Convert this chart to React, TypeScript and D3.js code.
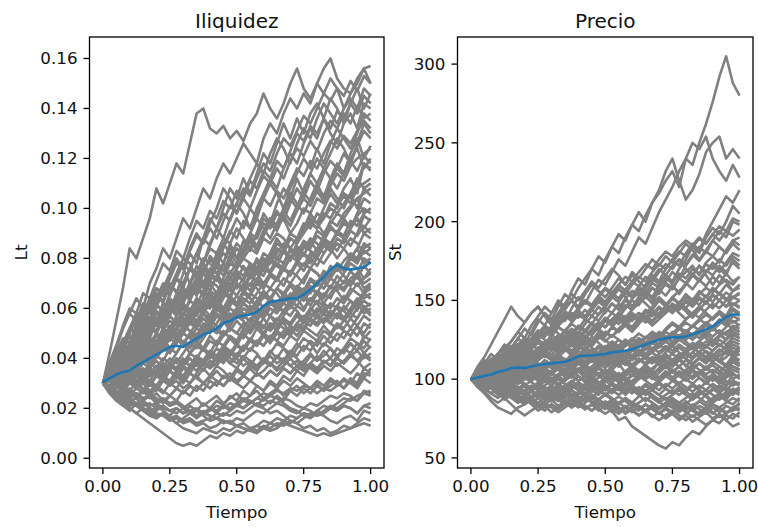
import React from "react";
import * as d3 from "d3";

// Simulation grid: 41 time steps on [0, 1]
const timeGrid = d3.range(41).map((i) => i / 40);

// Illiquidity paths Lt, in thousandths
const liquidityPaths: number[][] = [
  [30,42,55,68,84,80,88,96,108,102,110,118,114,126,138,140,132,130,133,128,131,127,134,138,146,140,136,142,150,156,148,144,150,156,160,152,148,146,152,156,150],
  [30,38,44,52,58,64,60,70,76,84,80,88,96,92,100,108,104,112,118,114,120,126,122,118,128,134,130,138,144,140,146,142,150,146,152,148,140,146,150,156,157],
  [30,36,40,46,52,50,58,64,60,68,74,80,76,84,90,86,94,100,108,104,98,106,112,118,114,122,128,124,118,126,132,128,136,142,138,134,140,144,140,148,145],
  [30,34,40,38,46,50,56,54,62,58,66,72,68,76,82,78,86,92,88,96,102,98,92,100,106,112,108,116,122,118,126,132,128,136,130,126,134,138,132,142,140],
  [30,33,37,42,40,46,44,50,56,52,60,58,64,70,66,74,80,76,84,90,96,92,100,96,104,110,106,100,108,114,120,116,124,118,126,132,128,124,130,138,135],
  [30,35,32,38,44,42,48,54,50,58,64,60,68,66,72,78,74,82,78,86,92,88,84,90,98,94,102,108,104,112,106,114,120,116,122,128,124,118,126,134,130],
  [30,32,36,34,40,38,44,48,46,52,50,56,54,60,58,64,70,66,72,78,76,82,88,84,90,96,92,98,104,100,108,114,110,104,112,118,114,122,128,120,125],
  [30,34,38,44,50,56,52,60,66,62,58,64,70,76,72,68,74,80,86,82,78,84,90,96,92,88,94,100,106,102,98,104,110,116,112,108,114,120,124,116,120],
  [30,28,32,36,34,38,42,40,46,44,48,52,50,56,60,58,54,60,66,64,70,68,74,80,76,82,88,84,80,86,92,98,94,100,106,102,108,112,106,118,115],
  [30,36,42,48,46,54,60,58,64,70,68,74,80,78,72,78,84,82,88,86,80,84,90,88,94,92,98,96,90,94,100,98,104,102,108,104,100,106,112,108,110],
  [30,32,30,34,38,36,40,44,42,46,50,48,52,56,54,58,62,60,66,70,68,72,76,74,78,82,80,84,88,86,90,94,92,96,100,98,102,106,100,108,105],
  [30,34,38,36,42,46,44,50,54,52,58,62,66,64,70,74,72,78,82,80,76,80,84,82,88,86,90,88,84,88,92,96,94,90,94,98,96,100,104,98,100],
  [30,27,30,28,32,30,34,38,36,40,38,42,46,44,48,52,50,54,58,56,60,64,62,66,70,68,72,76,74,78,82,80,84,88,86,90,94,92,96,92,96],
  [30,33,36,40,44,42,48,52,56,54,60,64,62,68,72,70,76,74,70,74,78,76,72,76,80,78,82,86,84,80,84,88,86,82,86,90,88,92,96,90,92],
  [30,29,31,28,30,33,31,35,33,37,40,38,42,46,44,48,52,50,54,58,56,60,58,62,66,64,68,72,70,74,78,76,80,78,82,86,84,80,84,90,88],
  [30,35,40,46,52,58,56,62,68,66,72,78,76,70,74,80,78,74,78,72,76,80,78,74,70,74,78,76,80,84,82,78,82,86,84,80,84,88,86,82,84],
  [30,31,34,32,36,34,38,42,40,44,42,46,50,48,52,50,54,58,56,60,58,62,66,64,60,64,68,66,70,68,72,76,74,70,74,78,76,80,84,78,80],
  [30,26,29,27,25,28,26,30,28,32,30,34,32,36,40,38,42,40,44,48,46,50,54,52,56,60,58,62,60,64,68,66,70,68,72,70,74,78,76,72,76],
  [30,34,32,36,40,38,42,46,44,48,52,50,46,50,54,52,56,60,58,54,58,62,60,56,60,64,62,58,62,66,64,68,66,62,66,70,68,72,74,70,72],
  [30,28,26,28,26,24,27,25,28,26,30,28,32,30,34,38,36,40,38,42,40,44,48,46,50,48,52,56,54,58,56,60,58,62,60,64,62,66,70,66,68],
  [30,33,31,35,39,37,41,45,43,47,51,49,53,51,47,51,55,53,49,53,57,55,51,55,59,57,53,57,61,59,55,59,63,61,57,61,65,63,59,66,64],
  [30,27,25,27,30,28,31,29,33,31,35,33,37,35,39,37,41,39,43,41,45,43,47,45,49,47,51,49,53,51,55,53,57,55,59,57,55,59,62,58,60],
  [30,32,35,38,36,40,44,42,46,50,48,52,56,54,58,62,60,64,60,56,60,58,54,58,56,52,56,54,50,54,52,56,60,58,54,58,56,52,56,60,57],
  [30,28,26,24,27,25,23,26,24,22,25,23,27,25,29,27,31,29,33,31,35,33,37,35,39,37,41,39,43,41,45,43,47,45,49,47,51,49,53,50,54],
  [30,32,30,28,31,29,33,31,35,33,37,35,39,37,41,39,43,41,45,43,41,45,43,47,45,49,47,45,49,47,51,49,47,51,49,53,51,49,53,48,51],
  [30,26,23,21,19,22,20,18,21,19,17,20,18,21,19,22,20,23,21,25,23,27,25,29,27,31,29,33,31,35,33,37,35,39,37,41,44,42,46,44,48],
  [30,34,38,42,40,44,48,46,50,48,44,48,46,42,46,44,40,44,42,38,42,40,44,42,38,42,46,44,40,44,48,46,42,46,44,40,44,48,46,42,45],
  [30,28,31,29,27,30,28,26,29,27,25,28,26,29,27,30,28,31,29,32,30,33,31,34,32,35,33,36,34,37,35,38,36,39,37,40,38,41,43,40,42],
  [30,31,29,32,30,33,36,34,37,35,38,36,39,37,40,38,41,39,42,40,38,41,39,37,40,38,36,39,37,35,38,36,34,37,35,38,36,34,37,41,39],
  [30,27,24,22,20,18,20,18,16,18,16,14,16,18,16,18,20,18,21,19,22,20,23,21,24,22,25,23,27,25,28,26,29,27,31,29,32,30,34,32,36],
  [30,33,31,34,32,35,33,36,34,32,35,33,31,34,32,30,33,31,29,32,30,28,31,29,27,30,28,31,29,32,30,28,31,29,32,30,28,31,29,34,33],
  [30,27,24,22,20,18,16,14,12,10,8,6,5,6,5,7,9,8,10,9,11,10,12,11,13,12,14,13,15,14,16,18,17,19,21,20,22,24,23,26,25],
  [30,28,26,24,22,21,19,17,16,18,16,14,12,11,10,12,11,10,12,11,13,12,11,13,12,14,13,15,14,16,18,17,19,21,20,22,24,23,25,26,27],
  [30,29,27,25,23,21,19,20,18,17,15,16,14,15,13,14,12,13,15,14,16,15,17,19,18,20,22,21,19,18,20,19,17,18,20,19,21,20,18,21,22],
  [30,27,25,23,21,22,20,19,17,18,16,17,15,16,14,15,16,18,17,19,21,20,22,24,23,25,24,22,20,19,17,16,18,17,15,14,16,17,15,19,18],
  [30,29,27,26,24,22,23,21,22,20,19,20,18,19,17,18,20,19,21,20,22,24,23,21,20,18,19,17,15,14,12,13,11,12,10,11,13,12,14,16,15],
  [30,28,29,27,25,26,24,25,23,24,22,23,21,19,20,18,17,16,15,14,13,12,11,10,12,11,12,14,13,12,11,10,9,10,9,10,11,12,13,14,13],
  [30,36,42,40,46,52,58,56,62,68,66,72,70,76,74,70,74,72,68,72,70,66,70,68,64,68,66,62,66,64,60,64,62,58,62,60,56,60,64,60,62],
  [30,31,33,30,32,34,31,33,35,38,36,40,38,42,45,43,47,45,49,52,50,54,52,56,59,57,61,59,63,61,65,63,67,65,69,67,71,69,73,68,70],
  [30,35,33,39,45,43,50,56,54,62,70,66,74,82,78,88,96,92,100,108,104,112,106,114,122,118,126,134,128,136,130,138,142,136,144,140,134,142,148,140,146],
  [30,34,39,37,44,49,46,53,51,58,63,60,57,64,69,66,73,71,78,84,80,87,83,90,96,93,99,95,102,108,104,111,107,114,119,116,122,118,125,131,128],
  [30,33,31,37,35,41,46,43,49,47,52,56,53,59,57,62,60,66,71,68,74,71,77,75,80,78,84,82,88,86,91,95,92,98,96,101,105,102,108,110,112],
  [30,32,37,34,40,38,43,48,45,51,49,55,52,58,63,60,57,62,67,65,70,68,73,71,76,74,72,78,83,81,86,84,89,87,92,90,95,93,97,100,98],
  [30,29,33,31,35,40,38,36,41,39,44,42,47,45,50,48,53,51,56,54,59,57,55,60,58,63,61,66,64,69,67,72,70,75,73,78,76,81,79,84,86],
  [30,31,28,32,30,34,31,36,33,38,35,40,37,42,40,44,42,47,45,49,47,52,50,54,52,57,55,59,57,61,59,64,62,66,64,69,67,71,69,72,74],
  [30,33,38,36,41,45,43,48,46,51,55,53,58,56,61,59,64,62,58,63,61,66,64,60,65,63,59,64,62,67,65,61,66,64,69,67,63,68,66,64,66],
  [30,28,32,29,33,31,35,33,37,34,38,36,40,37,41,39,43,40,44,42,46,43,47,45,49,46,50,48,52,49,53,51,49,53,50,54,52,56,53,57,55],
  [30,32,29,33,31,28,32,30,27,31,29,33,30,34,32,36,33,37,35,32,36,34,38,35,39,37,41,38,42,40,37,41,39,43,40,44,42,46,43,49,47],
  [30,27,29,26,28,25,27,24,26,23,25,28,26,29,27,30,28,31,29,32,30,33,31,34,32,35,33,36,34,37,35,38,36,39,37,40,38,41,39,42,40],
  [30,28,25,27,24,26,23,25,22,24,21,23,20,22,24,21,23,25,22,24,26,23,25,27,24,26,28,25,27,29,26,28,30,27,29,31,28,32,30,36,34],
  [30,36,41,39,45,51,48,54,59,56,62,58,64,69,65,71,67,73,69,75,71,77,73,79,75,81,77,83,79,85,81,87,83,89,93,90,96,92,98,104,102],
  [30,33,38,43,41,47,52,49,55,60,57,63,68,65,71,76,73,79,75,81,86,83,89,85,91,96,93,99,95,101,106,103,109,105,111,116,113,119,115,121,118],
  [30,37,44,42,50,57,54,62,68,65,72,79,76,83,89,86,92,88,95,101,98,104,100,107,113,110,116,112,119,124,121,127,123,130,135,132,138,134,141,136,138],
  [30,31,35,33,38,36,41,39,44,49,47,52,50,55,53,58,56,61,59,64,62,67,65,70,68,73,71,76,74,79,77,82,80,85,83,88,86,91,89,93,90],
  [30,34,32,37,41,39,44,42,47,45,50,48,53,51,49,54,52,57,55,53,58,56,61,59,57,62,60,65,63,68,66,71,69,74,72,77,75,80,78,83,81],
  [30,27,31,28,32,30,27,31,29,33,31,35,33,37,35,39,37,41,39,43,41,45,43,47,45,49,47,51,49,53,51,56,54,58,56,61,59,63,61,67,69],
  [30,33,36,34,38,41,39,43,47,44,48,46,50,54,52,56,53,57,55,51,55,52,56,54,50,54,51,55,53,57,54,58,56,60,57,61,59,56,60,63,61],
  [30,28,31,33,30,34,32,29,33,31,35,32,36,34,38,35,39,37,41,38,36,40,37,41,39,43,40,44,42,46,43,47,45,49,46,50,48,52,49,54,52],
  [30,29,26,28,31,28,30,27,29,32,29,31,28,30,33,30,32,35,32,34,31,33,36,33,35,38,35,37,40,37,39,42,39,41,44,41,43,46,43,47,44],
  [30,32,35,32,34,37,34,36,39,36,38,35,37,40,37,39,36,38,41,38,40,37,39,36,38,41,38,40,37,39,36,38,41,38,40,37,39,42,39,36,38],
  [30,35,38,44,49,46,52,56,53,59,64,61,67,63,69,74,71,77,73,79,84,81,87,83,89,94,91,97,93,99,104,101,107,103,109,114,111,117,120,122,124],
  [30,29,34,38,36,41,39,45,43,48,53,51,56,54,60,58,63,61,67,65,70,68,73,71,77,75,80,78,84,82,87,85,91,89,95,93,98,101,104,106,108],
  [30,34,31,35,39,36,40,44,41,46,50,47,52,56,53,58,62,59,64,68,65,70,67,72,69,74,71,76,73,78,75,80,77,82,86,83,88,85,90,97,95],
  [30,32,36,40,38,43,47,45,50,55,52,57,61,58,55,59,63,60,57,61,65,62,59,63,67,64,61,65,69,66,63,67,71,68,72,76,73,70,74,80,78],
  [30,28,32,35,33,37,40,38,42,45,43,47,50,48,46,50,53,51,49,52,50,48,52,55,53,51,54,52,50,54,57,55,53,56,54,52,55,58,56,61,58],
  [30,36,33,40,46,43,50,48,55,62,59,66,63,70,77,74,81,78,85,91,88,95,92,98,104,101,107,104,110,116,113,119,116,122,127,124,129,126,131,135,132],
  [30,38,45,53,60,58,66,64,71,78,75,83,80,88,95,92,99,96,103,100,107,104,111,108,115,112,119,116,123,130,127,133,130,136,132,139,136,142,138,145,142],
  [30,33,40,46,44,51,57,55,62,68,65,72,78,75,82,88,85,92,98,95,102,108,105,112,118,115,122,128,125,131,137,134,140,146,143,148,145,151,147,153,150],
  [30,28,26,24,23,21,22,20,19,21,19,18,20,18,17,19,17,16,18,17,19,18,20,22,21,23,22,24,23,21,20,22,21,23,25,24,26,25,23,27,26],
  [30,27,25,26,23,24,21,22,20,21,19,20,18,19,17,18,19,21,20,22,21,23,22,24,26,25,27,26,28,27,29,28,26,28,27,29,31,30,28,32,30],
  [30,28,30,27,25,26,24,25,22,23,21,22,20,18,19,17,15,16,14,15,13,14,12,13,15,14,16,15,17,16,18,17,19,18,20,19,21,20,18,21,20],
  [30,38,45,52,58,55,62,60,66,63,69,67,64,70,68,65,71,69,66,72,70,67,73,71,68,74,72,69,75,73,70,76,74,71,77,75,79,82,80,86,84],
  [30,34,40,45,43,49,54,52,58,56,62,60,57,63,61,67,65,63,69,67,73,71,69,75,73,79,77,75,81,79,85,83,81,87,85,91,89,95,93,98,100],
  [30,32,29,34,38,35,40,37,42,46,43,48,45,50,47,44,49,46,51,48,45,50,47,52,49,54,51,56,53,58,55,60,57,54,59,56,61,58,63,66,64],
  [30,31,36,34,40,45,42,48,46,52,57,54,60,58,64,62,67,65,71,69,75,73,78,76,82,80,86,84,90,88,94,92,98,96,102,100,106,104,110,118,116],
  [30,35,40,38,44,49,47,52,50,56,60,57,62,59,64,61,66,63,60,65,62,67,64,61,66,63,68,65,62,67,64,69,66,71,68,73,70,75,72,77,74],
];

// Mean illiquidity path, in thousandths
const liquidityMean = [
  30.5,32,33.5,34.5,35,37,38.5,40,41.5,43,44.5,45,44.5,46.5,48,49.5,50.5,52,54,55,
  56.5,57,57.5,58.5,61,62.5,63,63.5,64,64,65.5,67.5,70,72.5,75.5,77.5,76,75.5,76,76.5,78.5,
];

// Price paths St
const pricePaths: number[][] = [
  [100,104,101,107,112,109,115,120,117,124,130,127,134,140,137,145,152,148,156,163,160,168,176,172,181,190,186,196,206,214,222,232,240,236,250,262,276,292,305,288,280],
  [100,106,112,108,116,122,118,126,132,128,136,142,138,146,154,150,158,164,170,166,176,184,180,190,198,194,204,212,220,232,240,226,214,220,230,244,250,254,240,246,240],
  [100,97,102,106,103,108,112,109,114,118,115,121,126,123,128,132,129,135,140,137,143,148,145,151,156,153,160,166,162,170,176,172,180,186,182,192,200,208,216,212,220],
  [100,103,99,104,108,105,110,107,112,116,113,118,122,119,124,121,126,131,128,134,139,136,142,147,144,150,156,152,160,166,162,170,176,184,180,190,196,192,200,210,205],
  [100,96,100,104,101,106,103,108,112,116,113,118,115,120,124,128,125,130,135,131,137,142,139,145,150,147,153,158,154,162,168,164,172,178,184,180,188,194,190,200,198],
  [100,105,110,116,112,118,124,130,126,134,140,146,142,148,144,150,146,154,160,156,152,158,164,160,168,164,170,176,172,178,174,180,186,182,176,182,188,184,180,188,190],
  [100,102,106,103,108,104,109,113,110,114,118,122,119,124,128,125,130,127,132,136,133,138,142,139,144,148,152,149,156,160,157,164,168,172,166,174,178,174,182,188,185],
  [100,98,95,99,96,100,104,101,106,103,108,112,109,114,118,122,119,124,121,126,130,127,132,136,140,137,142,146,150,147,152,156,160,166,162,168,172,168,174,180,178],
  [100,104,108,112,116,120,124,130,136,142,146,140,136,142,148,154,150,156,162,158,164,170,166,160,166,162,158,164,170,166,172,176,170,166,172,168,174,170,166,176,172],
  [100,99,103,100,104,107,104,108,111,108,112,115,112,116,120,117,121,125,122,126,130,127,131,135,132,136,140,137,142,146,143,148,152,149,154,158,155,160,163,160,165],
  [100,103,107,111,108,113,118,122,126,123,128,133,129,134,138,142,139,144,140,146,142,148,144,150,146,152,148,144,150,146,152,148,154,150,156,152,158,154,150,156,160],
  [100,96,93,97,94,98,95,99,103,100,104,101,105,109,106,110,114,111,115,112,116,120,117,121,125,122,126,130,127,132,136,133,138,142,139,144,148,145,150,152,155],
  [100,105,102,108,114,111,117,122,119,125,130,127,133,129,124,129,134,131,136,132,128,133,138,134,130,135,140,136,141,146,142,147,143,139,144,149,145,150,146,152,150],
  [100,101,98,102,99,103,100,104,101,105,102,106,103,107,110,107,111,108,112,115,112,116,119,116,120,123,120,124,128,125,129,133,130,134,138,135,139,143,140,148,146],
  [100,104,108,105,110,115,119,116,121,126,131,128,133,138,143,140,145,150,147,153,158,155,160,156,152,157,153,148,152,148,144,149,145,141,146,142,138,143,139,144,142],
  [100,97,100,97,94,98,95,92,96,93,97,101,98,102,99,103,107,104,108,112,109,113,117,114,118,122,119,123,127,124,128,132,129,126,130,134,131,135,139,136,138],
  [100,103,106,103,107,111,108,112,116,113,117,114,118,122,119,115,119,123,120,116,120,124,121,117,121,125,122,126,130,127,123,127,131,128,132,136,133,129,133,137,134],
  [100,95,91,86,82,80,78,82,84,88,92,89,93,97,94,98,102,99,103,107,104,108,112,109,113,117,114,118,122,119,123,127,124,120,124,128,125,121,125,132,130],
  [100,102,99,103,106,110,107,111,115,112,116,120,124,121,126,130,127,123,127,123,119,123,119,115,119,115,119,123,120,124,121,125,122,119,123,120,124,128,125,129,126],
  [100,97,94,91,88,92,89,86,90,87,91,88,92,89,93,96,93,97,100,97,101,104,101,105,108,105,109,112,109,113,116,113,117,120,117,121,118,122,119,124,122],
  [100,104,108,112,109,114,118,122,119,124,128,125,121,125,121,117,121,117,113,117,121,117,121,125,121,117,121,117,113,117,121,117,113,117,121,117,113,117,121,115,118],
  [100,98,102,97,101,104,100,106,103,99,104,108,103,107,101,105,110,106,102,107,111,106,110,104,108,113,109,105,111,115,110,114,108,113,118,112,116,111,114,118,115],
  [100,103,100,97,101,98,95,99,96,93,97,94,91,95,92,96,93,97,100,97,101,98,102,105,102,106,103,107,110,107,111,108,112,109,113,110,114,111,108,113,112],
  [100,96,92,95,91,88,91,87,84,87,83,86,89,86,90,93,90,94,97,94,98,101,98,102,105,102,106,103,100,104,101,105,102,106,103,107,104,108,105,111,109],
  [100,104,101,105,109,106,110,114,111,115,119,116,112,116,112,108,112,108,104,108,104,100,104,100,96,100,104,100,104,108,104,108,104,100,104,108,104,100,104,108,106],
  [100,97,99,96,93,96,93,90,93,96,93,96,99,96,99,102,99,102,105,102,99,102,99,96,99,102,99,96,99,102,105,102,99,102,105,102,99,102,105,100,103],
  [100,103,106,109,106,110,114,111,115,119,123,120,124,128,125,121,125,121,117,121,117,113,109,113,109,105,109,105,101,105,101,97,101,105,101,97,101,97,101,104,100],
  [100,96,99,95,91,94,90,93,89,92,88,91,87,90,86,89,92,89,93,90,94,91,95,92,96,93,97,94,98,95,99,96,93,97,94,98,95,92,96,99,97],
  [100,102,99,96,99,102,99,102,105,102,99,102,105,108,105,102,99,102,99,96,99,96,93,96,93,90,93,90,87,90,93,90,93,96,93,90,93,96,93,90,94],
  [100,97,94,91,94,91,88,85,88,85,82,85,82,79,82,85,82,85,88,85,82,85,82,79,82,85,88,85,82,85,88,85,88,91,88,85,88,91,88,93,91],
  [100,104,107,104,108,111,108,112,109,113,110,106,110,106,102,106,102,98,102,98,94,98,94,90,94,90,86,90,86,82,86,82,86,82,86,90,86,90,86,84,88],
  [100,96,92,88,85,88,84,80,77,80,83,80,84,81,85,82,86,83,80,84,81,85,82,79,83,80,84,81,78,82,79,83,80,84,81,78,82,79,83,81,85],
  [100,99,96,99,96,93,96,93,90,93,90,87,90,87,84,87,84,81,84,81,78,81,78,82,79,83,80,84,81,85,82,79,83,80,77,81,78,82,79,80,82],
  [100,97,100,96,99,95,98,94,97,93,96,92,95,91,94,90,87,90,86,83,85,80,74,76,70,67,64,61,58,56,60,58,63,67,65,70,74,72,77,75,79],
  [100,96,92,95,91,87,90,86,89,85,88,84,87,83,86,82,85,81,84,80,83,79,82,78,81,77,80,76,79,75,78,74,77,73,76,79,75,78,74,70,72],
  [100,108,114,122,130,138,146,140,136,142,146,140,134,140,146,150,144,138,144,150,146,152,158,152,146,152,158,164,160,166,160,154,160,166,172,166,160,166,162,156,160],
  [100,102,98,102,106,102,106,110,114,110,114,118,122,118,122,126,130,126,130,134,138,134,130,134,138,142,138,134,138,142,146,142,138,142,146,142,138,142,136,144,140],
  [100,95,98,94,90,93,89,85,88,84,80,83,79,82,86,83,87,91,88,92,96,93,97,101,98,102,106,103,107,111,108,112,116,113,117,114,118,122,119,116,120],
  [100,103,106,102,98,101,97,94,97,93,96,92,89,93,90,94,97,94,90,87,91,88,84,88,85,89,92,88,85,88,84,80,84,88,92,89,85,88,92,98,96],
  [100,106,102,110,116,112,120,126,122,130,138,134,142,150,146,156,164,160,170,178,174,184,192,188,198,206,200,212,218,226,232,222,240,250,246,254,240,232,226,236,228],
  [100,104,108,105,111,115,112,118,115,121,125,122,128,125,131,135,132,138,135,141,145,142,148,145,151,155,152,158,155,161,158,164,161,167,163,169,166,172,168,174,170],
  [100,97,102,106,103,109,106,112,109,115,112,118,115,121,118,124,121,127,124,130,127,133,130,136,133,139,136,142,139,145,142,148,145,151,147,153,149,155,151,147,150],
  [100,103,99,104,101,106,103,108,105,110,107,112,109,114,111,116,113,118,115,120,117,122,119,124,121,126,123,128,125,130,127,132,129,134,131,136,133,138,135,132,135],
  [100,98,101,104,101,105,102,106,109,106,110,107,111,114,111,115,112,109,113,110,114,111,115,118,115,119,116,120,117,121,118,122,119,123,120,124,121,125,122,126,124],
  [100,102,105,101,104,107,103,106,109,105,108,111,107,110,113,109,112,115,111,114,110,113,116,112,115,111,114,117,113,116,112,115,118,114,117,113,116,112,109,115,112],
  [100,96,99,95,98,101,97,100,96,99,102,98,101,97,100,103,99,102,98,101,104,100,103,99,102,105,101,104,100,103,106,102,105,101,104,100,103,99,102,106,104],
  [100,103,101,98,102,99,96,100,97,94,98,95,92,96,93,97,94,91,95,92,96,93,97,94,91,95,92,96,93,97,94,98,95,92,96,93,97,94,99,96,98],
  [100,98,95,97,94,91,93,90,87,89,92,89,86,88,91,88,85,87,90,87,84,86,89,86,83,85,88,85,82,84,87,84,81,83,86,83,86,89,87,92,90],
  [100,97,94,96,93,90,92,89,86,88,85,82,84,81,84,87,84,81,84,87,90,87,84,87,84,81,84,81,78,81,78,75,78,81,78,81,84,81,78,82,84],
  [100,105,110,107,113,118,115,121,126,123,129,134,131,137,142,139,145,150,147,153,149,155,151,157,153,159,155,151,157,153,159,155,161,157,163,159,165,161,167,162,165],
  [100,103,108,113,110,116,121,118,124,121,127,132,129,135,140,137,143,140,146,151,148,154,151,157,162,159,165,162,168,173,170,176,173,179,175,181,178,184,180,186,182],
  [100,99,104,101,106,111,108,113,110,115,120,117,122,119,124,129,126,131,128,133,138,135,140,137,142,139,144,141,146,143,148,145,150,147,152,149,154,150,146,148,145],
  [100,104,102,106,110,107,111,115,112,116,120,117,121,118,122,126,123,127,124,128,125,121,125,122,126,123,127,124,128,125,129,126,130,127,131,128,132,129,125,130,128],
  [100,97,100,103,100,104,101,98,102,99,103,106,103,107,104,108,105,109,106,110,107,111,108,112,109,113,110,114,111,115,112,116,113,117,114,118,115,119,116,120,118],
  [100,102,98,101,104,100,103,99,102,105,101,104,100,103,106,102,105,101,104,107,103,106,102,105,108,104,107,103,106,109,105,108,104,107,110,106,109,105,108,111,108],
  [100,101,98,102,99,103,100,97,101,98,95,99,96,100,97,94,98,95,92,96,93,97,94,91,95,92,96,93,90,94,91,95,92,89,93,90,94,91,88,92,94],
  [100,102,107,104,109,106,111,116,113,118,115,120,125,122,127,124,129,126,131,136,133,138,135,140,137,142,139,144,141,146,151,148,153,150,155,152,157,154,160,156,158],
  [100,98,103,100,96,100,104,101,105,102,106,110,107,111,108,112,116,113,117,114,118,115,119,123,120,124,121,125,122,126,130,127,131,128,132,129,133,137,134,140,138],
  [100,103,106,103,107,104,101,105,108,105,109,106,103,107,110,107,111,108,105,109,112,109,113,110,107,111,114,111,115,112,109,113,116,113,117,114,111,115,118,122,120],
  [100,98,96,99,97,94,97,95,92,95,93,90,93,91,88,91,89,86,89,87,84,87,85,82,85,83,80,83,81,84,82,85,83,80,83,81,84,82,85,88,86],
  [100,104,109,106,112,117,114,120,125,122,128,133,130,136,141,138,144,149,146,152,157,154,160,165,162,168,173,170,176,181,178,184,188,185,190,186,192,188,194,191,195],
  [100,106,104,110,108,114,119,116,122,119,125,130,127,133,130,136,141,138,144,141,147,152,149,155,152,158,155,161,158,164,161,167,164,170,167,173,170,176,172,178,175],
  [100,101,105,102,106,110,107,111,108,104,108,112,109,113,110,114,118,115,119,116,120,117,121,125,122,126,123,119,123,127,124,128,125,129,126,130,127,131,128,134,132],
  [100,96,100,97,101,105,102,106,103,107,104,108,111,108,112,109,113,110,114,111,115,112,108,112,109,113,110,114,111,115,112,116,113,110,114,111,115,112,118,114,116],
  [100,103,100,104,107,104,108,105,102,106,103,107,104,101,105,102,106,103,100,104,101,105,102,99,103,100,104,101,98,102,99,103,100,97,101,98,102,99,96,103,101],
  [100,98,102,99,96,99,96,93,96,93,90,93,96,93,96,99,96,93,96,93,90,93,90,93,96,93,90,93,90,87,90,93,90,87,90,93,90,87,90,94,92],
  [100,96,93,96,92,89,92,88,85,88,85,88,91,88,91,88,85,88,85,82,85,82,85,88,85,82,79,82,79,76,79,82,79,76,79,82,79,76,78,82,80],
  [100,104,101,105,109,106,110,107,111,115,112,116,113,117,121,118,122,119,123,127,124,128,125,121,125,129,126,130,127,131,135,132,136,133,137,141,138,142,139,145,142],
  [100,97,100,104,101,105,102,99,103,106,103,107,110,107,111,108,105,109,112,109,113,110,114,117,114,118,115,112,116,119,116,120,117,121,124,121,125,122,119,128,126],
  [100,102,105,108,105,109,112,109,113,116,113,117,120,117,121,118,115,119,116,113,117,114,111,115,112,116,113,110,114,111,108,112,109,106,110,107,111,108,105,112,110],
  [100,103,99,104,109,106,112,117,114,120,125,122,128,133,130,136,141,138,144,149,146,152,157,154,160,165,162,168,173,170,176,181,178,184,189,186,192,197,194,202,200],
  [100,105,103,108,113,110,115,112,117,122,119,124,121,126,131,128,133,130,135,132,137,134,139,136,141,138,143,140,145,142,147,144,149,146,151,148,153,150,155,152,154],
  [100,99,96,99,102,98,101,97,100,103,99,102,98,101,97,94,98,95,99,96,93,97,94,98,95,92,96,93,97,94,91,95,92,96,93,90,94,91,95,92,95],
  [100,98,101,104,101,98,102,99,103,106,103,100,104,107,104,101,105,108,105,109,112,109,113,116,113,117,120,117,121,124,121,125,128,125,129,126,123,127,130,132,130],
  [100,102,99,96,98,95,92,95,92,89,92,89,86,89,86,83,86,83,80,83,86,83,80,83,80,77,80,77,74,77,80,77,74,77,74,71,74,77,74,78,76],
  [100,97,94,97,100,97,100,103,100,103,106,103,100,103,106,103,106,109,106,103,106,103,100,103,106,103,100,103,106,109,106,103,106,109,106,103,106,103,109,108,106],
];

// Mean price path
const priceMean = [
  100,101,102,103,104.5,105.5,107,107.5,107,108,109,109.5,110,110.5,111,112.5,114.5,115,115,115.5,
  116,117,117.5,118,119,120.5,122,123.5,125,126,126.5,126.5,127,128.5,130,131.5,133.5,136.5,139.5,141,141,
];

const timeTicks = [0, 0.25, 0.5, 0.75, 1];
const liquidityTicks = [0, 0.02, 0.04, 0.06, 0.08, 0.1, 0.12, 0.14, 0.16];
const priceTicks = [50, 100, 150, 200, 250, 300];

const FONT = "DejaVu Sans, sans-serif";
const TOP = 37;
const BOTTOM = 468;

type PanelProps = {
  id: string;
  left: number;
  right: number;
  yDomain: [number, number];
  paths: number[][];
  mean: number[];
  yTicks: number[];
  yFormat: (v: number) => string;
  title: string;
  yLabel: string;
  yLabelX: number;
};

function Panel(p: PanelProps) {
  const x = d3.scaleLinear().domain([-0.05, 1.05]).range([p.left, p.right]);
  const y = d3.scaleLinear().domain(p.yDomain).range([BOTTOM, TOP]);
  const line = d3
    .line<number>()
    .x((_, i) => x(timeGrid[i]))
    .y((v) => y(v));
  const cx = (p.left + p.right) / 2;
  const cy = (TOP + BOTTOM) / 2;
  return (
    <g>
      <defs>
        <clipPath id={p.id}>
          <rect x={p.left} y={TOP} width={p.right - p.left} height={BOTTOM - TOP} />
        </clipPath>
      </defs>
      <g clipPath={`url(#${p.id})`} fill="none" strokeWidth={2.6} strokeLinejoin="round">
        {p.paths.map((s, k) => (
          <path key={k} d={line(s) ?? ""} stroke="#808080" />
        ))}
        <path d={line(p.mean) ?? ""} stroke="#1f77b4" />
      </g>
      <rect
        x={p.left}
        y={TOP}
        width={p.right - p.left}
        height={BOTTOM - TOP}
        fill="none"
        stroke="#000"
        strokeWidth={1.3}
      />
      {timeTicks.map((t) => (
        <g key={t}>
          <line x1={x(t)} x2={x(t)} y1={BOTTOM} y2={BOTTOM + 6} stroke="#000" strokeWidth={1.3} />
          <text x={x(t)} y={492} textAnchor="middle" fontSize={16.7} fontFamily={FONT} fill="#111">
            {t.toFixed(2)}
          </text>
        </g>
      ))}
      {p.yTicks.map((v) => (
        <g key={v}>
          <line x1={p.left - 6} x2={p.left} y1={y(v)} y2={y(v)} stroke="#000" strokeWidth={1.3} />
          <text
            x={p.left - 12}
            y={y(v)}
            dy="0.36em"
            textAnchor="end"
            fontSize={16.7}
            fontFamily={FONT}
            fill="#111"
          >
            {p.yFormat(v)}
          </text>
        </g>
      ))}
      <text x={cx} y={27.5} textAnchor="middle" fontSize={20} fontFamily={FONT} fill="#111">
        {p.title}
      </text>
      <text x={cx} y={518} textAnchor="middle" fontSize={16.7} fontFamily={FONT} fill="#111">
        Tiempo
      </text>
      <text
        transform={`translate(${p.yLabelX},${cy}) rotate(-90)`}
        textAnchor="middle"
        fontSize={16.7}
        fontFamily={FONT}
        fill="#111"
      >
        {p.yLabel}
      </text>
    </g>
  );
}

export default function App() {
  const liquidity = liquidityPaths.map((s) => s.map((v) => v / 1000));
  const liquidityAvg = liquidityMean.map((v) => v / 1000);
  return (
    <svg
      width={758}
      height={527}
      style={{ position: "absolute", left: 0, top: 0, background: "#fff" }}
    >
      <rect width={758} height={527} fill="#fff" />
      <Panel
        id="clip-lt"
        left={89.5}
        right={384}
        yDomain={[-0.0039, 0.1686]}
        paths={liquidity}
        mean={liquidityAvg}
        yTicks={liquidityTicks}
        yFormat={(v) => v.toFixed(2)}
        title="Iliquidez"
        yLabel="Lt"
        yLabelX={26.5}
      />
      <Panel
        id="clip-st"
        left={457.5}
        right={753}
        yDomain={[43.6, 317.2]}
        paths={pricePaths}
        mean={priceMean}
        yTicks={priceTicks}
        yFormat={(v) => String(v)}
        title="Precio"
        yLabel="St"
        yLabelX={401}
      />
    </svg>
  );
}
